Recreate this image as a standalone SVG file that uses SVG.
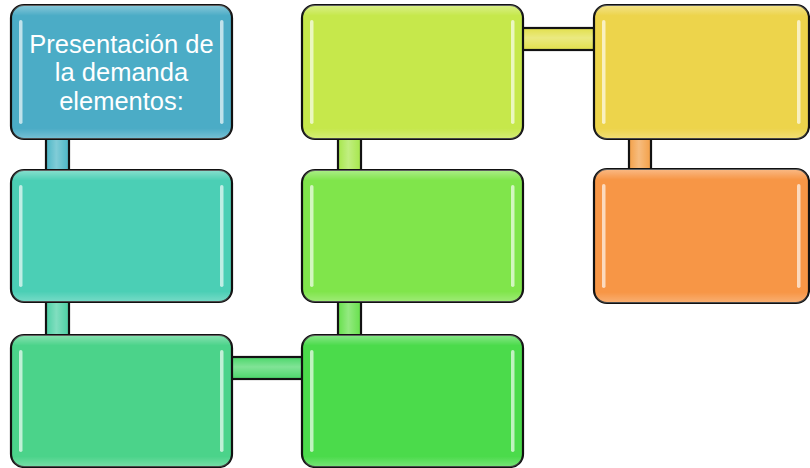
<svg xmlns="http://www.w3.org/2000/svg" width="810" height="468" viewBox="0 0 810 468">
<defs>
<style>
.box{stroke:#111;stroke-width:2.2}
.con{stroke:#111;stroke-width:2.2}
.gloss{fill:url(#vshade)}
.hl{fill:#fff;opacity:0.65}
.lbl{font-family:"Liberation Sans",Arial,sans-serif;font-size:25.5px;fill:#fff;text-anchor:middle}
</style>
<linearGradient id="vshade" x1="0" y1="0" x2="0" y2="1">
<stop offset="0" stop-color="#fff" stop-opacity="0.35"/>
<stop offset="0.08" stop-color="#fff" stop-opacity="0"/>
<stop offset="0.92" stop-color="#fff" stop-opacity="0"/>
<stop offset="1" stop-color="#fff" stop-opacity="0.25"/>
</linearGradient>
<linearGradient id="hshade" x1="0" y1="0" x2="1" y2="0">
<stop offset="0" stop-color="#fff" stop-opacity="0"/>
<stop offset="0.45" stop-color="#fff" stop-opacity="0.3"/>
<stop offset="1" stop-color="#fff" stop-opacity="0"/>
</linearGradient>
<linearGradient id="vbar" x1="0" y1="0" x2="0" y2="1">
<stop offset="0" stop-color="#fff" stop-opacity="0"/>
<stop offset="0.45" stop-color="#fff" stop-opacity="0.3"/>
<stop offset="1" stop-color="#fff" stop-opacity="0"/>
</linearGradient>
</defs>
<g id="connectors">
<rect class="con" x="46" y="137" width="23" height="34" fill="#4BB6C6"/>
<rect x="46" y="137" width="23" height="34" fill="url(#hshade)"/>
<rect class="con" x="46" y="301" width="23" height="35" fill="#4BD0A4"/>
<rect x="46" y="301" width="23" height="35" fill="url(#hshade)"/>
<rect class="con" x="231" y="357" width="72" height="22" fill="#4BD76A"/>
<rect x="231" y="357" width="72" height="22" fill="url(#vbar)"/>
<rect class="con" x="338" y="301" width="23" height="35" fill="#66E04B"/>
<rect x="338" y="301" width="23" height="35" fill="url(#hshade)"/>
<rect class="con" x="338" y="137" width="23" height="34" fill="#A6E74B"/>
<rect x="338" y="137" width="23" height="34" fill="url(#hshade)"/>
<rect class="con" x="522" y="28" width="72" height="22" fill="#E2E04B"/>
<rect x="522" y="28" width="72" height="22" fill="url(#vbar)"/>
<rect class="con" x="629" y="137" width="22" height="34" fill="#F3A048"/>
<rect x="629" y="137" width="22" height="34" fill="url(#hshade)"/>
</g>
<g id="n1">
<rect class="box" x="11" y="5" width="221" height="134" rx="13" fill="#4BACC6"/>
<rect x="11" y="5" width="221" height="134" rx="13" class="gloss"/>
<rect class="hl" x="19" y="20" width="3.5" height="104" rx="1.75"/>
<rect class="hl" x="220" y="20" width="3.5" height="104" rx="1.75"/>
<text class="lbl" x="121.5" y="52.5"><tspan x="121.5" y="52.5">Presentación de</tspan><tspan x="121.5" y="81">la demanda</tspan><tspan x="121.5" y="109.5">elementos:</tspan></text>
</g>
<g id="n2">
<rect class="box" x="11" y="170" width="221" height="132" rx="13" fill="#4BCFB5"/>
<rect x="11" y="170" width="221" height="132" rx="13" class="gloss"/>
<rect class="hl" x="19" y="185" width="3.5" height="102" rx="1.75"/>
<rect class="hl" x="220" y="185" width="3.5" height="102" rx="1.75"/>
</g>
<g id="n3">
<rect class="box" x="11" y="335" width="221" height="132" rx="13" fill="#4BD38A"/>
<rect x="11" y="335" width="221" height="132" rx="13" class="gloss"/>
<rect class="hl" x="19" y="350" width="3.5" height="102" rx="1.75"/>
<rect class="hl" x="220" y="350" width="3.5" height="102" rx="1.75"/>
</g>
<g id="n4">
<rect class="box" x="302" y="335" width="221" height="132" rx="13" fill="#4BDB4B"/>
<rect x="302" y="335" width="221" height="132" rx="13" class="gloss"/>
<rect class="hl" x="310" y="350" width="3.5" height="102" rx="1.75"/>
<rect class="hl" x="511" y="350" width="3.5" height="102" rx="1.75"/>
</g>
<g id="n5">
<rect class="box" x="302" y="170" width="221" height="132" rx="13" fill="#80E54B"/>
<rect x="302" y="170" width="221" height="132" rx="13" class="gloss"/>
<rect class="hl" x="310" y="185" width="3.5" height="102" rx="1.75"/>
<rect class="hl" x="511" y="185" width="3.5" height="102" rx="1.75"/>
</g>
<g id="n6">
<rect class="box" x="302" y="5" width="221" height="134" rx="13" fill="#C6E84B"/>
<rect x="302" y="5" width="221" height="134" rx="13" class="gloss"/>
<rect class="hl" x="310" y="20" width="3.5" height="104" rx="1.75"/>
<rect class="hl" x="511" y="20" width="3.5" height="104" rx="1.75"/>
</g>
<g id="n7">
<rect class="box" x="594" y="5" width="215" height="134" rx="13" fill="#EDD44B"/>
<rect x="594" y="5" width="215" height="134" rx="13" class="gloss"/>
<rect class="hl" x="602" y="20" width="3.5" height="104" rx="1.75"/>
<rect class="hl" x="797" y="20" width="3.5" height="104" rx="1.75"/>
</g>
<g id="n8">
<rect class="box" x="594" y="169" width="215" height="134" rx="13" fill="#F79646"/>
<rect x="594" y="169" width="215" height="134" rx="13" class="gloss"/>
<rect class="hl" x="602" y="184" width="3.5" height="104" rx="1.75"/>
<rect class="hl" x="797" y="184" width="3.5" height="104" rx="1.75"/>
</g>
</svg>
